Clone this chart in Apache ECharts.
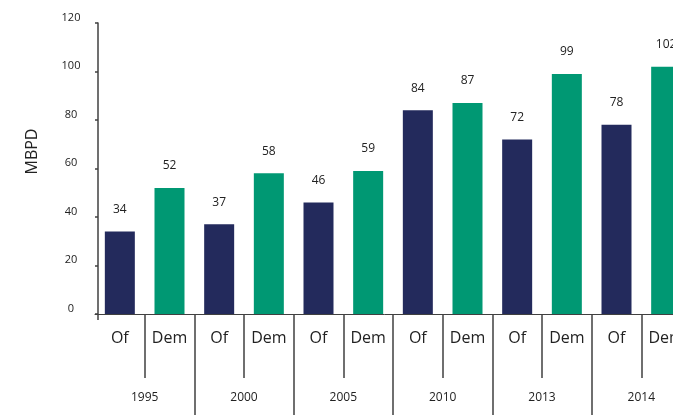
<!DOCTYPE html>
<html>
<head>
<meta charset="utf-8">
<style>
  html, body { margin: 0; padding: 0; background: #fff; }
  #chart { width: 673px; height: 415px; }
</style>
<script src="https://cdn.jsdelivr.net/npm/echarts@6/dist/echarts.min.js"></script>
</head>
<body>
<div id="chart"></div>
<script>
// Supply ("Of") and demand ("Dem") by year, in MBPD
const years = ['1995', '2000', '2005', '2010', '2013', '2014'];
const ofValues = [34, 37, 46, 84, 72, 78];
const demValues = [52, 58, 59, 87, 99, 102];
const pairLabels = ['Of', 'Dem'];
const yTicks = { min: 0, max: 120, step: 20 };

const OF_COLOR = '#232a5c';
const DEM_COLOR = '#009873';
const FONT = '"Open Sans", "Noto Sans", sans-serif';

// Flatten years into Of/Dem pairs for the inner category axis
const categories = [];
const barData = [];
years.forEach((y, i) => {
  categories.push(pairLabels[0]);
  barData.push({ value: ofValues[i], itemStyle: { color: OF_COLOR } });
  categories.push(pairLabels[1]);
  barData.push({ value: demValues[i], itemStyle: { color: DEM_COLOR } });
});

const chart = echarts.init(document.getElementById('chart'), null, { renderer: 'canvas' });
const lineColor = '#404040';
const skipFirst = (idx) => idx !== 0;

chart.setOption({
  animation: false,
  backgroundColor: '#ffffff',
  // main plot runs past the right edge of the page; second grid only carries the corner tick
  grid: [
    { left: 95, top: 23, bottom: 101, width: 596, containLabel: false, outerBoundsMode: 'none' },
    { left: 98, top: 23, bottom: 101, width: 594, containLabel: false, outerBoundsMode: 'none' }
  ],
  xAxis: [
    {
      type: 'category',
      gridIndex: 0,
      data: categories,
      position: 'bottom',
      axisLine: { show: true, lineStyle: { color: lineColor, width: 1 } },
      axisTick: { show: true, interval: skipFirst, length: 64, lineStyle: { color: lineColor, width: 1.5 } },
      axisLabel: { interval: 0, margin: 16, fontSize: 16, color: '#222', fontFamily: FONT }
    },
    {
      type: 'category',
      gridIndex: 0,
      data: years,
      position: 'bottom',
      axisLine: { show: false },
      axisTick: { show: true, interval: skipFirst, length: 110, lineStyle: { color: lineColor, width: 1.5 } },
      axisLabel: { interval: 0, margin: 78, fontSize: 12, color: '#222', fontFamily: FONT }
    },
    {
      type: 'category',
      gridIndex: 1,
      data: [''],
      position: 'bottom',
      axisLine: { show: false },
      axisTick: { show: true, length: 6, lineStyle: { color: lineColor, width: 1.5 } },
      axisLabel: { show: false }
    }
  ],
  yAxis: [
    {
      type: 'value',
      gridIndex: 0,
      offset: -3,
      min: yTicks.min,
      max: yTicks.max,
      interval: yTicks.step,
      name: 'MBPD',
      nameLocation: 'middle',
      nameRotate: 90,
      nameGap: 58,
      nameTextStyle: { fontSize: 16, color: '#222', fontFamily: FONT, padding: [0, 0, 0, 34] },
      axisLine: { show: true, lineStyle: { color: lineColor, width: 1.5 } },
      axisTick: { show: true, inside: false, length: 3, lineStyle: { color: lineColor, width: 1.5 } },
      splitLine: { show: false },
      axisLabel: {
        margin: 27,
        align: 'center',
        verticalAlign: 'bottom',
        fontSize: 11,
        color: '#222',
        fontFamily: FONT
      }
    },
    {
      type: 'value',
      gridIndex: 1,
      show: false,
      min: yTicks.min,
      max: yTicks.max
    }
  ],
  series: [
    {
      type: 'bar',
      xAxisIndex: 0,
      yAxisIndex: 0,
      data: barData,
      barWidth: 30,
      label: {
        show: true,
        position: 'top',
        distance: 16,
        fontSize: 12,
        color: '#222',
        fontFamily: FONT
      }
    }
  ]
});
</script>
</body>
</html>
